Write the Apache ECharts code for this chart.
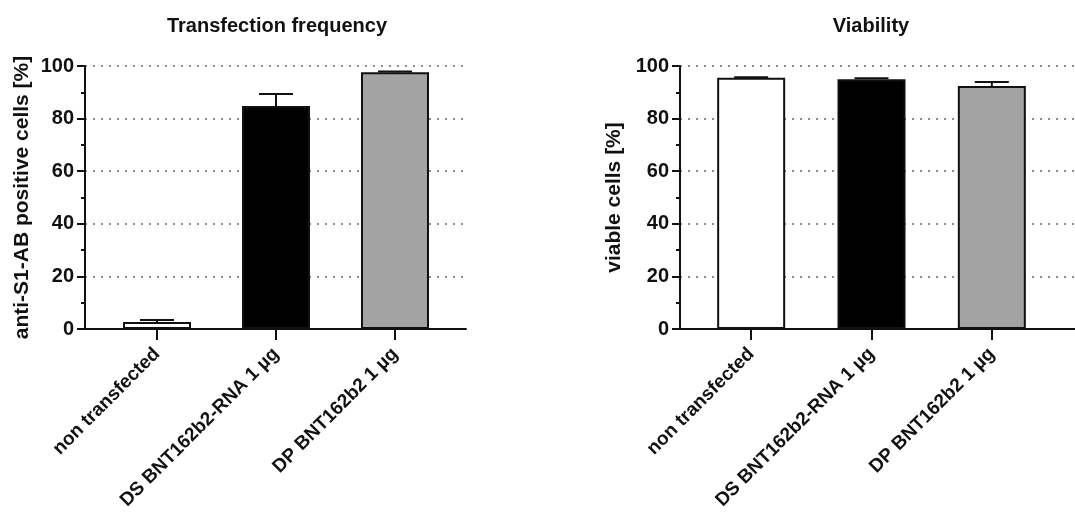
<!DOCTYPE html>
<html>
<head>
<meta charset="utf-8">
<script src="https://cdn.jsdelivr.net/npm/echarts@6/dist/echarts.min.js"></script>
<style>
html,body{margin:0;padding:0;background:#fff;}
#c{width:1075px;height:516px;}
</style>
</head>
<body>
<div id="c"></div>
<script>
const categories = ['non transfected', 'DS BNT162b2-RNA 1 µg', 'DP BNT162b2 1 µg'];
const transfectionMean = [2.7, 84.8, 97.6];
const transfectionErr = [0.7, 4.6, 0.3];
const viabilityMean = [95.5, 95.0, 92.4];
const viabilityErr = [0.2, 0.3, 1.5];
const yTicks = [0, 20, 40, 60, 80, 100];
const barColors = ['#ffffff', '#000000', '#a3a3a3'];

const FONT = 'Liberation Sans, Arial, sans-serif';
const chart = echarts.init(document.getElementById('c'));

function outerY(idx, name, gap) {
  return {
    type: 'value', gridIndex: idx, min: yTicks[0], max: yTicks[yTicks.length - 1], interval: 20,
    name: name, nameLocation: 'middle', nameGap: gap, nameRotate: 90,
    nameTextStyle: {fontFamily: FONT, fontWeight: 'bold', fontSize: 21, color: '#111'},
    axisLine: {show: true, lineStyle: {color: '#111', width: 2}},
    axisTick: {show: true, length: 8, lineStyle: {color: '#111', width: 2}},
    minorTick: {show: true, splitNumber: 2, length: 4, lineStyle: {color: '#111', width: 2}},
    axisLabel: {fontFamily: FONT, fontWeight: 'bold', fontSize: 20, color: '#111', margin: 11},
    splitLine: {show: true, lineStyle: {color: '#666', width: 1.5, type: [2, 6]}}
  };
}
function innerY(idx) {
  return {type: 'value', gridIndex: idx, min: 0, max: 100, show: false,
    splitLine: {show: false}};
}
function outerX(idx) {
  return {type: 'value', gridIndex: idx, min: 0, max: 1,
    axisLine: {show: true, onZero: false, lineStyle: {color: '#111', width: 2}},
    axisTick: {show: false}, axisLabel: {show: false}, splitLine: {show: false}};
}
function innerX(idx) {
  return {type: 'category', gridIndex: idx, data: categories,
    axisLine: {show: false},
    axisTick: {show: true, alignWithLabel: true, length: 11, lineStyle: {color: '#111', width: 2}},
    axisLabel: {rotate: 45, interval: 0, fontFamily: FONT, fontWeight: 'bold', fontSize: 19, color: '#111', margin: 22},
    splitLine: {show: false}};
}
function bars(xi, yi, vals) {
  return {type: 'bar', xAxisIndex: xi, yAxisIndex: yi, barWidth: 68,
    data: vals.map((v, i) => ({value: v, itemStyle: {color: barColors[i], borderColor: '#111', borderWidth: 2}})),
    z: 3};
}
function errs(xi, yi, means, errArr) {
  return {type: 'custom', xAxisIndex: xi, yAxisIndex: yi, z: 4,
    data: means.map((m, i) => [i, m, m + errArr[i]]),
    renderItem: function (params, api) {
      const p0 = api.coord([api.value(0), api.value(1)]);
      const p1 = api.coord([api.value(0), api.value(2)]);
      const hw = 17;
      return {type: 'group', children: [
        {type: 'line', shape: {x1: p0[0], y1: p0[1], x2: p1[0], y2: p1[1]}, style: {stroke: '#111', lineWidth: 2}},
        {type: 'line', shape: {x1: p1[0] - hw, y1: p1[1], x2: p1[0] + hw, y2: p1[1]}, style: {stroke: '#111', lineWidth: 2}}
      ]};
    }};
}

chart.setOption({
  animation: false,
  title: [
    {text: 'Transfection frequency', left: 272, top: 11, textAlign: 'center',
      textStyle: {fontFamily: FONT, fontWeight: 'bold', fontSize: 20, color: '#111'}},
    {text: 'Viability', left: 866, top: 11, textAlign: 'center',
      textStyle: {fontFamily: FONT, fontWeight: 'bold', fontSize: 20, color: '#111'}}
  ],
  grid: [
    {left: 85, width: 381, top: 66, bottom: 187},
    {left: 97.5, width: 357, top: 66, bottom: 187},
    {left: 680, right: 0, top: 66, bottom: 187},
    {left: 691, width: 361, top: 66, bottom: 187}
  ],
  xAxis: [outerX(0), innerX(1), outerX(2), innerX(3)],
  yAxis: [outerY(0, 'anti-S1-AB positive cells [%]', 52), innerY(1),
          outerY(2, 'viable cells [%]', 55), innerY(3)],
  series: [
    bars(1, 1, transfectionMean), errs(1, 1, transfectionMean, transfectionErr),
    bars(3, 3, viabilityMean), errs(3, 3, viabilityMean, viabilityErr)
  ]
});
</script>
</body>
</html>
